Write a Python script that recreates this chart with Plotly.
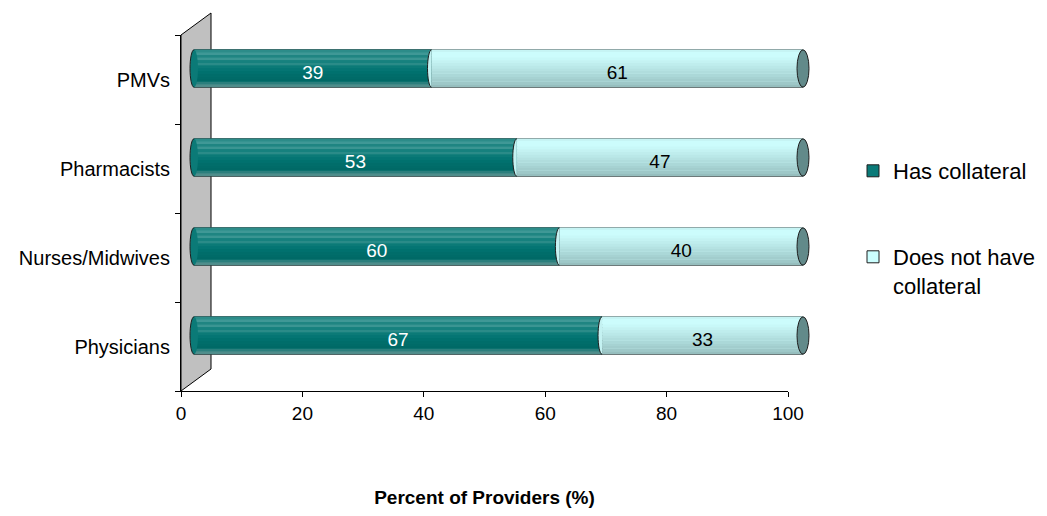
import plotly.graph_objects as go

# ---- data -------------------------------------------------------------
categories = ["PMVs", "Pharmacists", "Nurses/Midwives", "Physicians"]
has_collateral = [39, 53, 60, 67]
no_collateral = [61, 47, 40, 33]
series_names = ["Has collateral", "Does not have<br>collateral"]
x_ticks = [0, 20, 40, 60, 80, 100]
x_title = "Percent of Providers (%)"

# ---- styling ----------------------------------------------------------
FONT = "Liberation Sans, Arial, sans-serif"
W, H = 1047, 516
EDGE = "#1e1e1e"
TEAL = "#0a7a78"
LIGHT = "#ccffff"
TEAL_CAP = "#0b7a77"
LIGHT_CAP = "#c4f2f2"
END_FACE = "#628a8a"
WALL = "#c0c0c0"

# shading bands, top edge to bottom edge of each cylinder
TEAL_BANDS = ["#2c8c89", "#3f9896", "#1f8582", "#3a9592", "#16817e", "#2a8b88",
              "#0b7a77", "#047573", "#00716e", "#006d6a", "#006b68", "#006966",
              "#2b7f7d", "#4f8d8b"]
LIGHT_BANDS = ["#c6f4f4", "#ccfcfc", "#ccfcfc", "#c8f8f8", "#c4f2f2", "#bfeded",
               "#bae8e8", "#b5e2e2", "#b0dddd", "#abd8d8", "#a6d2d2", "#a2cdcd",
               "#9ec8c8", "#96bebe"]

# frame geometry (pixels)
FRONT_L, FRONT_R, FRONT_T, FRONT_B = 181, 788, 35, 391
DEPTH_DX, DEPTH_DY = 30, 22
BAR_L, BAR_R, BAR_RISE = 194, 803, 11
BAR_PAD = 3           # extra data units either side so the end caps are not clipped
BAR_W = 0.42          # cylinder thickness in category units
CAP_R, END_R = 4, 6   # half-widths of the elliptical ends (pixels)
LABEL_DROP_PX = 4     # value labels sit slightly below the cylinder axis


def fx(p):
    return p / W


def fy(p):
    return 1 - p / H


n = len(categories)
pos = [n - 1 - i for i in range(n)]
totals = [a + b for a, b in zip(has_collateral, no_collateral)]
x_max = x_ticks[-1]
px_per_unit = (BAR_R - BAR_L) / x_max
px_per_cat = (FRONT_B - FRONT_T) / n

fig = go.Figure()

# empty trace so the front (labelled) axes are drawn
fig.add_trace(go.Scatter(x=[], y=[], xaxis="x", yaxis="y", showlegend=False,
                         hoverinfo="skip"))

common = dict(orientation="h", xaxis="x2", yaxis="y2", hoverinfo="skip")

# base cylinders (also carry the legend swatches)
fig.add_trace(go.Bar(name=series_names[0], y=pos, x=has_collateral, base=[0] * n,
                     width=BAR_W, marker=dict(color=TEAL, line=dict(color=EDGE, width=1)),
                     legend="legend", **common))
fig.add_trace(go.Bar(name=series_names[1], y=pos, x=no_collateral, base=has_collateral,
                     width=BAR_W, marker=dict(color=LIGHT, line=dict(color=EDGE, width=1)),
                     legend="legend2", **common))

# cylindrical shading
for values, bases, bands in ((has_collateral, [0] * n, TEAL_BANDS),
                             (no_collateral, has_collateral, LIGHT_BANDS)):
    bw = BAR_W / len(bands)
    for i, c in enumerate(bands):
        fig.add_trace(go.Bar(y=pos, x=values, base=bases, width=bw * 1.08,
                             offset=BAR_W / 2 - (i + 1) * bw,
                             marker=dict(color=c, line=dict(width=0)),
                             showlegend=False, **common))

# value labels
drop = LABEL_DROP_PX / px_per_cat
for values, bases, color in ((has_collateral, [0] * n, "white"),
                             (no_collateral, has_collateral, "black")):
    fig.add_trace(go.Bar(y=pos, x=values, base=bases, width=BAR_W,
                         offset=-BAR_W / 2 - drop,
                         marker=dict(color="rgba(0,0,0,0)", line=dict(width=0)),
                         text=[str(v) for v in values], textposition="inside",
                         insidetextanchor="middle", textangle=0, constraintext="none",
                         textfont=dict(color=color, size=19, family=FONT),
                         showlegend=False, **common))


def half_arc(yc, h, r):
    k = 0.5523
    top, bot = yc + h, yc - h
    return (f"M0,{top} C{-k * r},{top} {-r},{yc + k * h} {-r},{yc} "
            f"C{-r},{yc - k * h} {-k * r},{bot} 0,{bot}")


shapes = [
    # side wall
    dict(type="path", xref="paper", yref="paper", layer="below",
         path=(f"M{fx(FRONT_L)},{fy(FRONT_B)} L{fx(FRONT_L)},{fy(FRONT_T)} "
               f"L{fx(FRONT_L + DEPTH_DX)},{fy(FRONT_T - DEPTH_DY)} "
               f"L{fx(FRONT_L + DEPTH_DX)},{fy(FRONT_B - DEPTH_DY)} Z"),
         fillcolor=WALL, line=dict(color="black", width=1)),
]
h = BAR_W / 2
for yc, split, total in zip(pos, has_collateral, totals):
    cap = dict(xref="x2", yref="y2", xsizemode="pixel", layer="above")
    # rounded start of the cylinder
    shapes.append(dict(type="circle", xanchor=0, x0=-CAP_R, x1=CAP_R,
                       y0=yc - h, y1=yc + h, fillcolor=TEAL_CAP,
                       line=dict(width=0), **cap))
    shapes.append(dict(type="path", xanchor=0, path=half_arc(yc, h, CAP_R),
                       line=dict(color=EDGE, width=1), **cap))
    # curved joint between the two segments
    shapes.append(dict(type="path", xanchor=split, path=half_arc(yc, h, CAP_R) + " Z",
                       fillcolor=LIGHT_CAP, line=dict(width=0), **cap))
    shapes.append(dict(type="path", xanchor=split, path=half_arc(yc, h, CAP_R),
                       line=dict(color=EDGE, width=1), **cap))
    # end face
    shapes.append(dict(type="circle", xanchor=total, x0=-END_R, x1=END_R,
                       y0=yc - h, y1=yc + h, fillcolor=END_FACE,
                       line=dict(color=EDGE, width=1), **cap))

bounds = [p - 0.5 for p in range(n + 1)]

fig.update_layout(
    width=W, height=H,
    margin=dict(l=0, r=0, t=0, b=0, autoexpand=False),
    paper_bgcolor="white", plot_bgcolor="rgba(0,0,0,0)",
    font=dict(family=FONT, size=19, color="black"),
    barmode="overlay",
    shapes=shapes,
    xaxis=dict(domain=[fx(FRONT_L), fx(FRONT_R)], range=[0, x_max], tickvals=x_ticks,
               ticks="outside", ticklen=5, tickcolor="black", showline=True,
               linecolor="black", linewidth=1, showgrid=False, zeroline=False,
               tickfont=dict(size=19), anchor="y", fixedrange=True,
               title=dict(text=f"<b>{x_title}</b>", font=dict(size=19), standoff=67)),
    yaxis=dict(domain=[fy(FRONT_B), fy(FRONT_T)], range=[-0.5, n - 0.5],
               tickvals=pos, ticktext=categories, ticks="outside", ticklen=6,
               tickcolor="rgba(0,0,0,0)", showline=True, linecolor="black",
               linewidth=1, showgrid=False, zeroline=False, anchor="x",
               tickfont=dict(size=20), fixedrange=True,
               minor=dict(tickmode="array", tickvals=bounds, ticks="outside",
                          ticklen=5, tickcolor="black", showgrid=False)),
    xaxis2=dict(domain=[fx(BAR_L - BAR_PAD * px_per_unit), fx(BAR_R + BAR_PAD * px_per_unit)],
                range=[-BAR_PAD, x_max + BAR_PAD], visible=False,
                anchor="y2", fixedrange=True),
    yaxis2=dict(domain=[fy(FRONT_B - BAR_RISE), fy(FRONT_T - BAR_RISE)],
                range=[-0.5, n - 0.5], visible=False, anchor="x2", fixedrange=True),
    legend=dict(x=fx(853), y=fy(150), xanchor="left", yanchor="top",
                font=dict(size=22), bgcolor="rgba(0,0,0,0)"),
    legend2=dict(x=fx(853), y=fy(236), xanchor="left", yanchor="top", valign="top",
                 font=dict(size=22), bgcolor="rgba(0,0,0,0)"),
)

fig.write_html("out.html")
